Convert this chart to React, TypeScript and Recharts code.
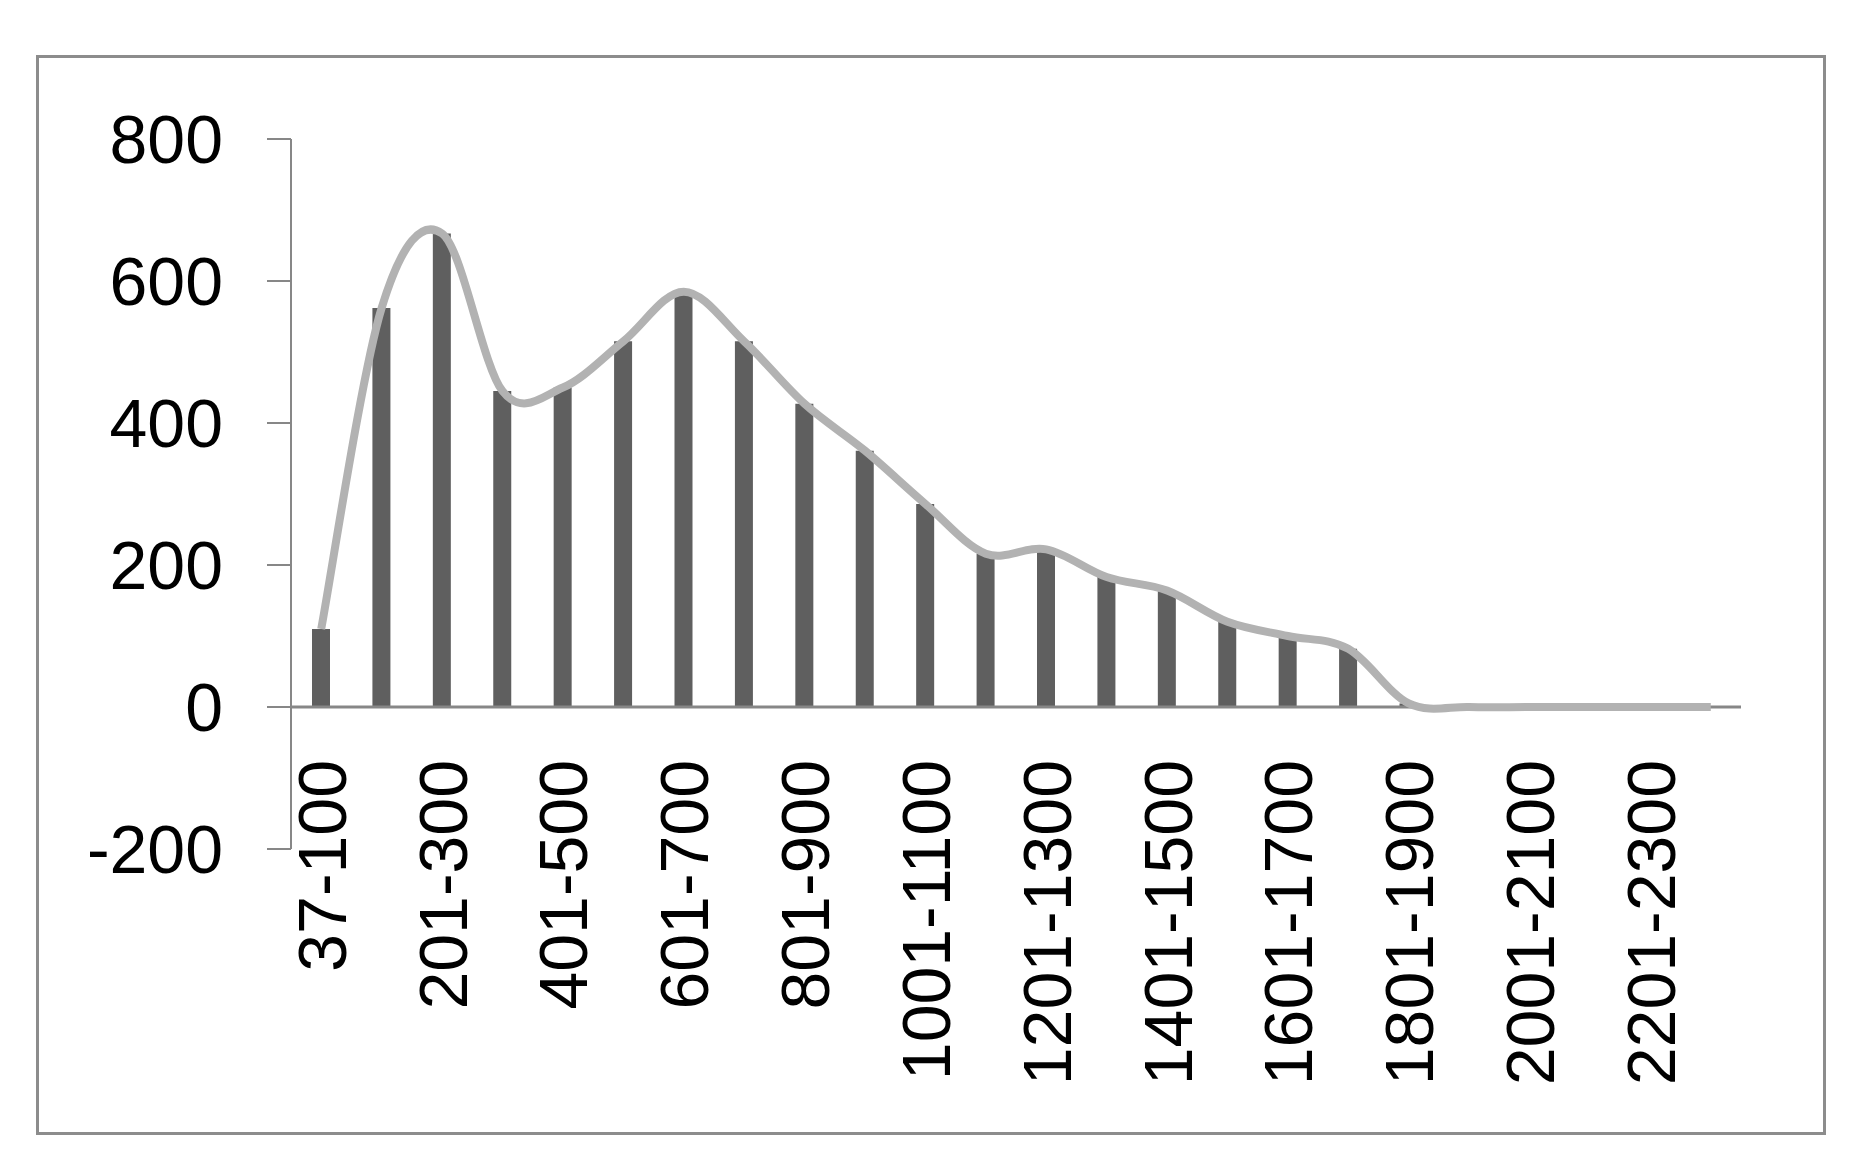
import React from 'react';
import { ComposedChart, Bar, Line, XAxis, YAxis, ReferenceLine } from 'recharts';

// bins and counts
const categories = [
  '37-100', '101-200', '201-300', '301-400', '401-500', '501-600',
  '601-700', '701-800', '801-900', '901-1000', '1001-1100', '1101-1200',
  '1201-1300', '1301-1400', '1401-1500', '1501-1600', '1601-1700', '1701-1800',
  '1801-1900', '1901-2000', '2001-2100', '2101-2200', '2201-2300', '2301-2400',
];
const counts = [110, 562, 667, 445, 450, 515, 585, 515, 427, 361, 286, 216, 222, 183, 164, 120, 100, 82, 5, 0, 0, 0, 0, 0];
const yTicks = [-200, 0, 200, 400, 600, 800];

const FONT = '"Liberation Sans", Arial, sans-serif';
const AXIS_GRAY = '#878787';
const LABEL_TOP = 752;

// Excel-like smoothed line (Catmull-Rom through every point)
const smoothCurve = (context: any) => {
  let pts: number[][] = [];
  return {
    areaStart() {},
    areaEnd() {},
    lineStart() {
      pts = [];
    },
    point(x: number, y: number) {
      pts.push([+x, +y]);
    },
    lineEnd() {
      if (!pts.length) return;
      context.moveTo(pts[0][0], pts[0][1]);
      const t = 1 / 6;
      for (let i = 0; i < pts.length - 1; i++) {
        const p0 = pts[i - 1] || pts[i];
        const p1 = pts[i];
        const p2 = pts[i + 1];
        const p3 = pts[i + 2] || p2;
        context.bezierCurveTo(
          p1[0] + (p2[0] - p0[0]) * t,
          p1[1] + (p2[1] - p0[1]) * t,
          p2[0] - (p3[0] - p1[0]) * t,
          p2[1] - (p3[1] - p1[1]) * t,
          p2[0],
          p2[1],
        );
      }
    },
  };
};

const XTick = (props: any) => {
  const { x, payload } = props;
  return (
    <text
      x={x}
      y={LABEL_TOP}
      transform={`rotate(-90, ${x}, ${LABEL_TOP})`}
      textAnchor="end"
      dy="0.36em"
      fontSize={68}
      fontFamily={FONT}
      fill="#000"
    >
      {payload.value}
    </text>
  );
};

const App: React.FC = () => {
  const chartData = categories.map((name, i) => ({ name, value: counts[i] }));

  return (
    <div style={{ position: 'relative', width: 1846, height: 1150, background: '#fff' }}>
      <div
        style={{
          position: 'absolute',
          left: 28,
          top: 47,
          width: 1784,
          height: 1074,
          border: '3px solid #8c8c8c',
        }}
      />
      <div style={{ position: 'absolute', left: 0, top: 0 }}>
        <ComposedChart
          width={1846}
          height={1150}
          data={chartData}
          margin={{ top: 131, right: 113, left: 83, bottom: 49 }}
        >
          <XAxis
            dataKey="name"
            interval={1}
            axisLine={false}
            tickLine={false}
            height={260}
            tick={<XTick />}
          />
          <YAxis
            domain={[-200, 800]}
            ticks={yTicks}
            width={200}
            tickSize={24}
            tickMargin={44}
            axisLine={{ stroke: AXIS_GRAY, strokeWidth: 2 }}
            tickLine={{ stroke: AXIS_GRAY, strokeWidth: 2 }}
            tick={{ fontSize: 68, fill: '#000', fontFamily: FONT }}
          />
          <ReferenceLine y={0} stroke={AXIS_GRAY} strokeWidth={3} />
          <Bar dataKey="value" fill="#5f5f5f" barSize={18} isAnimationActive={false} />
          <Line
            type={smoothCurve as any}
            dataKey="value"
            stroke="#b2b2b2"
            strokeWidth={8}
            dot={false}
            isAnimationActive={false}
          />
        </ComposedChart>
      </div>
    </div>
  );
};

export default App;
